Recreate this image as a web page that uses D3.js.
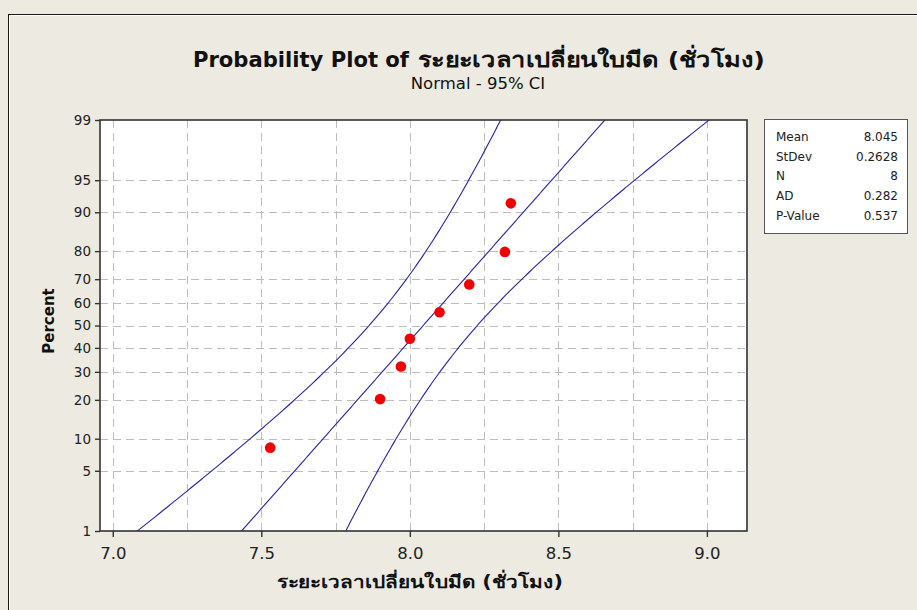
<!DOCTYPE html>
<html>
<head>
<meta charset="utf-8">
<script src="https://cdn.jsdelivr.net/npm/d3@7"></script>
<style>
  html, body { margin: 0; padding: 0; background: #EDEAE1; }
  svg { display: block; font-family: Tahoma, "DejaVu Sans", "Noto Sans", sans-serif; }
</style>
</head>
<body>
<svg id="chart" width="917" height="610"></svg>
<script>
// Observed cutter-change intervals (hours), sorted
const hours = [7.53, 7.90, 7.97, 8.00, 8.10, 8.20, 8.32, 8.34];

// Axis ticks
const xTicks = [7.0, 7.5, 8.0, 8.5, 9.0];
const xGrid = [7.0, 7.25, 7.5, 7.75, 8.0, 8.25, 8.5, 8.75, 9.0];
const yTicks = [1, 5, 10, 20, 30, 40, 50, 60, 70, 80, 90, 95, 99];

// Summary table
const statNames = ["Mean", "StDev", "N", "AD", "P-Value"];
const statValues = ["8.045", "0.2628", "8", "0.282", "0.537"];

const titleMain = "Probability Plot of";
const varName = "ระยะเวลาเปลี่ยนใบมีด (ชั่วโมง)";
const subTitle = "Normal - 95% CI";

// Inverse standard normal CDF (Acklam)
function probit(p) {
  const a = [-3.969683028665376e+01, 2.209460984245205e+02, -2.759285104469687e+02,
             1.383577518672690e+02, -3.066479806614716e+01, 2.506628277459239e+00];
  const b = [-5.447609879822406e+01, 1.615858368580409e+02, -1.556989798598866e+02,
             6.680131188771972e+01, -1.328068155288572e+01];
  const c = [-7.784894002430293e-03, -3.223964580411365e-01, -2.400758277161838e+00,
             -2.549732539343734e+00, 4.374664141464968e+00, 2.938163982698783e+00];
  const d = [7.784695709041462e-03, 3.224671290700398e-01, 2.445134137142996e+00,
             3.754408661907416e+00];
  const pl = 0.02425;
  let q, r;
  if (p < pl) {
    q = Math.sqrt(-2 * Math.log(p));
    return (((((c[0]*q+c[1])*q+c[2])*q+c[3])*q+c[4])*q+c[5]) /
           ((((d[0]*q+d[1])*q+d[2])*q+d[3])*q+1);
  } else if (p <= 1 - pl) {
    q = p - 0.5; r = q * q;
    return (((((a[0]*r+a[1])*r+a[2])*r+a[3])*r+a[4])*r+a[5])*q /
           (((((b[0]*r+b[1])*r+b[2])*r+b[3])*r+b[4])*r+1);
  } else {
    q = Math.sqrt(-2 * Math.log(1 - p));
    return -(((((c[0]*q+c[1])*q+c[2])*q+c[3])*q+c[4])*q+c[5]) /
            ((((d[0]*q+d[1])*q+d[2])*q+d[3])*q+1);
  }
}

const svg = d3.select("#chart");
const W = 917, H = 610;
const plot = { left: 100, right: 747, top: 120, bottom: 531 };

// Window frame
svg.append("rect").attr("x", 0).attr("y", 0).attr("width", W).attr("height", H).attr("fill", "#EDEAE1");
svg.append("rect").attr("x", 9.5).attr("y", 15.5).attr("width", W + 20).attr("height", H + 20)
  .attr("fill", "none").attr("stroke", "#FFFFFF").attr("stroke-width", 1);
svg.append("rect").attr("x", 8.5).attr("y", 14.5).attr("width", W + 20).attr("height", H + 20)
  .attr("fill", "none").attr("stroke", "#1a1a1a").attr("stroke-width", 1);

const x = d3.scaleLinear().domain([6.957, 9.135]).range([plot.left, plot.right]);
const zScale = d3.scaleLinear().domain([probit(0.01), probit(0.99)]).range([plot.bottom, plot.top]);
const y = p => zScale(probit(p / 100));

// Plot background
svg.append("rect").attr("x", plot.left).attr("y", plot.top)
  .attr("width", plot.right - plot.left).attr("height", plot.bottom - plot.top)
  .attr("fill", "#FFFFFF");

// Grid
const grid = svg.append("g").attr("stroke", "#BDBDBD").attr("stroke-width", 1)
  .attr("stroke-dasharray", "8,5");
grid.selectAll("line.v").data(xGrid).join("line").attr("class", "v")
  .attr("x1", d => Math.round(x(d)) + 0.5).attr("x2", d => Math.round(x(d)) + 0.5)
  .attr("y1", plot.top).attr("y2", plot.bottom);
grid.selectAll("line.h").data(yTicks.filter(t => t > 1 && t < 99)).join("line").attr("class", "h")
  .attr("y1", d => Math.round(y(d)) + 0.5).attr("y2", d => Math.round(y(d)) + 0.5)
  .attr("x1", plot.left).attr("x2", plot.right);

// Fitted line and 95% confidence bands
const n = hours.length;
const mean = d3.mean(hours);
const sd = d3.deviation(hours);
const zc = 1.959964;
const zs = d3.range(-2.6, 2.6001, 0.02);
const band = k => zs.map(z => [mean + sd * z + k * zc * sd * Math.sqrt(1 / n + z * z / (2 * n)), z]);

svg.append("clipPath").attr("id", "clip").append("rect")
  .attr("x", plot.left).attr("y", plot.top)
  .attr("width", plot.right - plot.left).attr("height", plot.bottom - plot.top);

const line = d3.line().x(d => x(d[0])).y(d => zScale(d[1]));
const curves = svg.append("g").attr("clip-path", "url(#clip)");
[-1, 0, 1].forEach(k => {
  curves.append("path").datum(band(k)).attr("d", line)
    .attr("fill", "none").attr("stroke", "#2424A8").attr("stroke-width", 1.1);
});

// Data points at median-rank plotting positions
const pts = hours.map((v, i) => ({ v, p: 100 * (i + 1 - 0.3) / (n + 0.4) }));
svg.append("g").selectAll("circle").data(pts).join("circle")
  .attr("cx", d => x(d.v)).attr("cy", d => y(d.p)).attr("r", 5.3)
  .attr("fill", "#F00000");

// Frame
svg.append("rect").attr("x", plot.left).attr("y", plot.top)
  .attr("width", plot.right - plot.left).attr("height", plot.bottom - plot.top)
  .attr("fill", "none").attr("stroke", "#333333").attr("stroke-width", 1.6);

// Axes
const xAxis = d3.axisBottom(x).tickValues(xTicks).tickFormat(d3.format(".1f"))
  .tickSizeInner(6).tickSizeOuter(0).tickPadding(10);
const gx = svg.append("g").attr("transform", `translate(0,${plot.bottom})`).call(xAxis);
gx.select(".domain").remove();
gx.selectAll("line").attr("stroke", "#333").attr("stroke-width", 1.4);
gx.selectAll("text").attr("font-size", 16.5).attr("fill", "#222").attr("font-family", "DejaVu Sans");

const yAxis = d3.axisLeft(zScale).tickValues(yTicks.map(t => probit(t / 100)))
  .tickFormat((d, i) => yTicks[i]).tickSizeInner(5).tickSizeOuter(0).tickPadding(4);
const gy = svg.append("g").attr("transform", `translate(${plot.left},0)`).call(yAxis);
gy.select(".domain").remove();
gy.selectAll("line").attr("stroke", "#333").attr("stroke-width", 1.4);
gy.selectAll("text").attr("font-size", 13.5).attr("fill", "#222").attr("font-family", "DejaVu Sans");

// Titles
const title = svg.append("text").attr("y", 67)
  .attr("font-size", 21).attr("font-weight", "bold").attr("fill", "#111");
title.append("tspan").attr("x", 193).attr("textLength", 216).attr("lengthAdjust", "spacingAndGlyphs")
  .text(titleMain);
title.append("tspan").attr("x", 418).attr("textLength", 347).attr("lengthAdjust", "spacingAndGlyphs")
  .text(varName);
svg.append("text").attr("x", 478).attr("y", 89).attr("text-anchor", "middle")
  .attr("font-size", 16.5).attr("fill", "#111").text(subTitle);

svg.append("text").attr("x", 277).attr("y", 588)
  .attr("textLength", 286).attr("lengthAdjust", "spacingAndGlyphs")
  .attr("font-size", 17.5).attr("font-weight", "bold").attr("fill", "#111").text(varName);
svg.append("text").attr("transform", "translate(54,321) rotate(-90)").attr("text-anchor", "middle")
  .attr("font-size", 15).attr("font-weight", "bold").attr("fill", "#111").text("Percent");

// Summary box
const box = { x: 764, y: 119, w: 143, h: 114 };
svg.append("rect").attr("x", box.x + 0.5).attr("y", box.y + 0.5).attr("width", box.w).attr("height", box.h)
  .attr("fill", "#FFFFFF").attr("stroke", "#555").attr("stroke-width", 1);
const rows = svg.append("g").attr("font-size", 12).attr("fill", "#222").attr("font-family", "DejaVu Sans");
rows.selectAll("text.k").data(statNames).join("text").attr("class", "k")
  .attr("x", 776).attr("y", (d, i) => 141 + i * 19.7).text(d => d);
rows.selectAll("text.v").data(statValues).join("text").attr("class", "v")
  .attr("x", 898).attr("y", (d, i) => 141 + i * 19.7).attr("text-anchor", "end").text(d => d);
</script>
</body>
</html>
